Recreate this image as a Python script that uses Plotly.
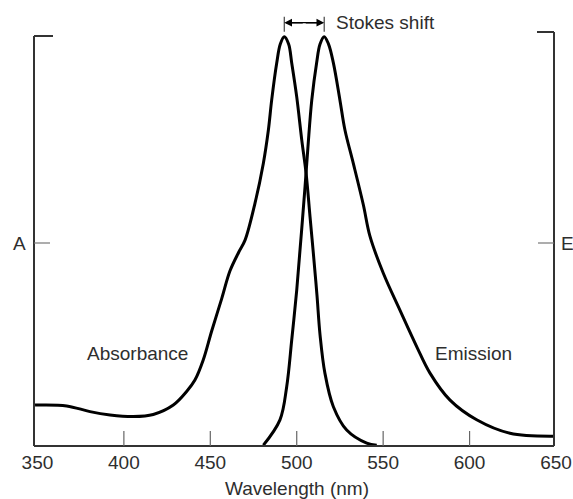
import plotly.graph_objects as go

# Absorbance spectrum (wavelength nm, normalized value)
abs_wl = [348.6, 366.9, 380.4, 392.0, 405.4, 417.0, 428.6, 436.3, 441.1, 445.9,
          450.8, 456.6, 461.4, 466.5, 470.1, 475.9, 480.7, 483.6, 485.5, 488.4,
          490.5, 492.8, 495.3, 497.1, 500.0, 502.9, 505.4, 507.7, 509.7, 511.7,
          513.5, 516.3, 521.2, 528.9, 540.5, 546.3]
abs_val = [0.100, 0.098, 0.084, 0.076, 0.072, 0.077, 0.100, 0.133, 0.161, 0.210,
           0.281, 0.360, 0.428, 0.474, 0.503, 0.594, 0.691, 0.772, 0.845, 0.935,
           0.982, 1.000, 0.982, 0.936, 0.853, 0.748, 0.667, 0.560, 0.467, 0.369,
           0.271, 0.178, 0.096, 0.039, 0.007, 0.002]

# Emission spectrum
em_wl = [480.7, 490.3, 494.2, 497.1, 500.0, 501.9, 503.3, 504.8, 506.5, 508.7,
         511.5, 513.5, 515.9, 518.4, 521.2, 525.0, 527.9, 532.7, 538.5, 542.4,
         550.1, 559.7, 569.4, 577.1, 588.7, 604.1, 623.4, 648.4]
em_val = [0.002, 0.064, 0.145, 0.259, 0.381, 0.479, 0.552, 0.633, 0.731, 0.845,
          0.936, 0.982, 1.000, 0.982, 0.936, 0.845, 0.772, 0.691, 0.590, 0.512,
          0.422, 0.332, 0.243, 0.178, 0.112, 0.064, 0.031, 0.024]

x_ticks = [350, 400, 450, 500, 550, 600, 650]
tick_marks = [400, 450, 500, 550, 600]
abs_peak = 492.8
em_peak = 515.9

FONT = "Liberation Sans, Arial, sans-serif"
TXT = "#2e2e2e"
PXN = 522 / 302.0  # px per nm in plot area


def px2nm(px):
    return 348 + (px - 34) / PXN


def px2p(px):
    return (px - 34) / 522.0


def py2p(py):
    return (446 - py) / 414.0


fig = go.Figure()
fig.add_trace(go.Scatter(x=abs_wl, y=abs_val, mode="lines",
                         line=dict(color="black", width=3, shape="spline", smoothing=1.0),
                         name="Absorbance", showlegend=False))
fig.add_trace(go.Scatter(x=em_wl, y=em_val, mode="lines",
                         line=dict(color="black", width=3, shape="spline", smoothing=1.0),
                         name="Emission", showlegend=False))

shapes = []
ax_col = "#333333"
x_right = px2nm(554)
L = dict(color=ax_col, width=2)
shapes.append(dict(type="line", xref="paper", yref="paper", x0=0, x1=0, y0=0, y1=py2p(36), line=L))
shapes.append(dict(type="line", xref="paper", yref="paper", x0=0, x1=19 / 522, y0=py2p(36), y1=py2p(36), line=L))
shapes.append(dict(type="line", xref="x", yref="paper", x0=348, x1=x_right, y0=0, y1=0, line=L))
shapes.append(dict(type="line", xref="x", yref="paper", x0=x_right, x1=x_right, y0=0, y1=py2p(32), line=L))
shapes.append(dict(type="line", xref="x", yref="paper", x0=px2nm(537), x1=x_right, y0=py2p(32), y1=py2p(32), line=L))
# inward bottom tick marks
for t in tick_marks:
    shapes.append(dict(type="line", xref="x", yref="paper", x0=t, x1=t, y0=0, y1=15 / 414,
                       line=dict(color="#666666", width=1.2)))
# A / E ticks
ymid = py2p(243)
shapes.append(dict(type="line", xref="paper", yref="paper", x0=0, x1=16 / 522, y0=ymid, y1=ymid,
                   line=dict(color="#777777", width=1.2)))
shapes.append(dict(type="line", xref="x", yref="paper", x0=px2nm(538), x1=x_right, y0=ymid, y1=ymid,
                   line=dict(color="#777777", width=1.2)))
# Stokes shift bars and connecting line
ystk = py2p(22.7)
for p in (abs_peak, em_peak):
    shapes.append(dict(type="line", xref="x", yref="paper", x0=p, x1=p, y0=py2p(31.7), y1=py2p(16.7),
                       line=dict(color="#444444", width=1.2)))
shapes.append(dict(type="line", xref="x", yref="paper", x0=abs_peak + 2, x1=em_peak - 2, y0=ystk, y1=ystk,
                   line=dict(color="black", width=1.3)))

ann = []
mid = (abs_peak + em_peak) / 2
for p in (abs_peak, em_peak):
    ann.append(dict(x=p, y=ystk, xref="x", yref="paper", ax=mid, ay=0, axref="x", ayref="pixel",
                    text="", showarrow=True, arrowhead=2, arrowsize=1.1, arrowwidth=1.4,
                    arrowcolor="black", standoff=0, startstandoff=0))
tf = dict(family=FONT, size=19, color=TXT)
ann.append(dict(x=px2p(385.5), y=ystk, xref="paper", yref="paper", text="Stokes shift", showarrow=False,
                font=tf, xanchor="center", yanchor="middle"))
ann.append(dict(x=px2p(137), y=py2p(353), xref="paper", yref="paper",
                text="Absorbance", showarrow=False, font=tf, xanchor="center", yanchor="middle"))
ann.append(dict(x=px2p(473), y=py2p(353), xref="paper", yref="paper",
                text="Emission", showarrow=False, font=tf, xanchor="center", yanchor="middle"))
ann.append(dict(x=px2p(19), y=ymid, xref="paper", yref="paper", text="A", showarrow=False,
                font=tf, xanchor="center", yanchor="middle"))
ann.append(dict(x=px2p(567), y=ymid, xref="paper", yref="paper", text="E", showarrow=False,
                font=tf, xanchor="center", yanchor="middle"))
ann.append(dict(x=px2p(297), y=py2p(488.5), xref="paper", yref="paper", text="Wavelength (nm)",
                showarrow=False, font=tf, xanchor="center", yanchor="middle"))

fig.update_layout(
    width=573, height=499,
    margin=dict(l=34, r=17, t=32, b=53, autoexpand=False),
    paper_bgcolor="white", plot_bgcolor="white",
    shapes=shapes, annotations=ann,
    xaxis=dict(range=[348, 650], tickmode="array", tickvals=x_ticks,
               ticktext=[str(v) for v in x_ticks], ticks="", showline=False,
               showgrid=False, zeroline=False, tickfont=tf, automargin=False,
               ticklabelstandoff=3),
    yaxis=dict(range=[0, 1.0115], visible=False, showgrid=False, zeroline=False),
    font=dict(family=FONT),
)

fig.write_html("out.html")
